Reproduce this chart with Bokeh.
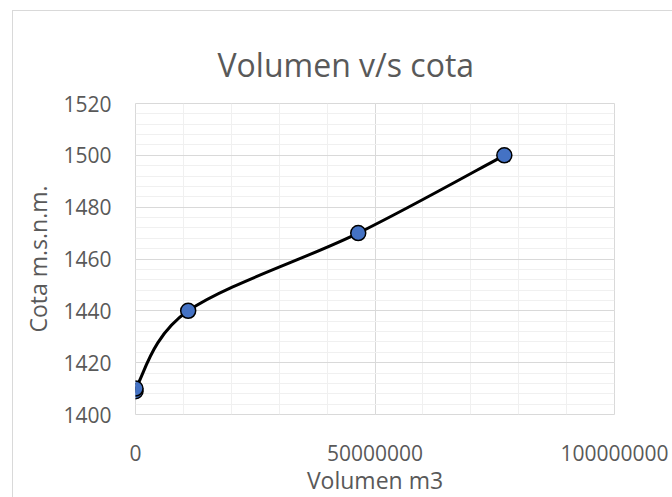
from bokeh.plotting import figure
from bokeh.models import Range1d, FixedTicker, Title, ColumnDataSource
from bokeh.embed import file_html
from bokeh.resources import INLINE

# data
volumen = [0, 0, 11000000, 46500000, 77000000]
cota = [1409, 1410, 1440, 1470, 1500]
x_ticks = [0, 50000000, 100000000]
x_minor = [i * 10000000 for i in range(11)]
y_ticks = [1400, 1420, 1440, 1460, 1480, 1500, 1520]
y_minor = [1400 + 4 * i for i in range(31)]
title_text = "Volumen v/s cota"

TEXT = "#595959"
FONT = "Open Sans"

X0, X1, Y0, Y1 = 0, 100000000, 1400, 1520
FRAME_W, FRAME_H = 479, 315
OFF_L, OFF_T = 12, 10          # chart-area border offset
W, H = 660, 487
BL = 135 - OFF_L - 1
BT = 103 - OFF_T - 1

p = figure(width=W, height=H, output_backend="svg", toolbar_location=None,
           x_range=Range1d(X0, X1), y_range=Range1d(Y0, Y1),
           min_border_left=BL, min_border_right=W - BL - FRAME_W,
           min_border_top=BT, min_border_bottom=H - BT - FRAME_H)
p.margin = (OFF_T, 0, 0, OFF_L)
p.styles = {"border-left": "1px solid #d9d9d9", "border-top": "1px solid #d9d9d9"}
p.outline_line_color = "#d9d9d9"
p.background_fill_color = "white"
p.border_fill_color = "white"

t = Title(text=title_text, align="left", offset=82, text_font_size="32px",
          text_color=TEXT, text_font=FONT, text_font_style="normal", standoff=36)
p.add_layout(t, "above")

p.xaxis.ticker = FixedTicker(ticks=x_ticks, minor_ticks=x_minor)
p.yaxis.ticker = FixedTicker(ticks=y_ticks, minor_ticks=y_minor)
for ax in (p.xaxis[0], p.yaxis[0]):
    ax.axis_line_color = None
    ax.major_tick_line_color = None
    ax.minor_tick_line_color = None
    ax.major_tick_out = 0
    ax.major_tick_in = 0
    ax.major_label_text_font = FONT
    ax.major_label_text_font_size = "21px"
    ax.major_label_text_color = TEXT
    ax.axis_label_text_font = FONT
    ax.axis_label_text_font_size = "23px"
    ax.axis_label_text_color = TEXT
    ax.axis_label_text_font_style = "normal"
p.xaxis.axis_label = "Volumen m3"
p.yaxis.axis_label = "Cota m.s.n.m."
p.xaxis.major_label_standoff = 26
p.xaxis.axis_label_standoff = 0
p.yaxis.major_label_standoff = 20
p.yaxis.axis_label_standoff = 6
p.xaxis.formatter.use_scientific = False
p.yaxis.formatter.use_scientific = False

for g in (p.xgrid[0], p.ygrid[0]):
    g.grid_line_color = "#d9d9d9"
    g.grid_line_width = 1
    g.minor_grid_line_color = "#f0f0f0"
    g.minor_grid_line_width = 1

# smoothed line: spreadsheet-style bezier (Catmull-Rom tangents, 1/6 arms,
# capped at half the segment length), computed in screen space
sx = FRAME_W / (X1 - X0)
sy = FRAME_H / (Y1 - Y0)
P = [((v - X0) * sx, (c - Y0) * sy) for v, c in zip(volumen, cota)]
n = len(P)

def dist(a, b):
    return ((a[0] - b[0]) ** 2 + (a[1] - b[1]) ** 2) ** 0.5

cols = {k: [] for k in ("x0", "y0", "x1", "y1", "cx0", "cy0", "cx1", "cy1")}
for i in range(n - 1):
    a, b = P[i], P[i + 1]
    pm = P[max(i - 1, 0)]
    pp = P[min(i + 2, n - 1)]
    seg = dist(a, b)
    d0 = dist(pm, b)
    d1 = dist(a, pp)
    f = 1 / 6 if d0 / 6 < seg / 2 else (seg / (2 * d0) if d0 > 0 else 0)
    g = 1 / 6 if d1 / 6 < seg / 2 else (seg / (2 * d1) if d1 > 0 else 0)
    c0 = (a[0] + f * (b[0] - pm[0]), a[1] + f * (b[1] - pm[1]))
    c1 = (b[0] - g * (pp[0] - a[0]), b[1] - g * (pp[1] - a[1]))
    cols["x0"].append(a[0] / sx + X0); cols["y0"].append(a[1] / sy + Y0)
    cols["x1"].append(b[0] / sx + X0); cols["y1"].append(b[1] / sy + Y0)
    cols["cx0"].append(c0[0] / sx + X0); cols["cy0"].append(c0[1] / sy + Y0)
    cols["cx1"].append(c1[0] / sx + X0); cols["cy1"].append(c1[1] / sy + Y0)
src = ColumnDataSource(cols)
p.bezier(x0="x0", y0="y0", x1="x1", y1="y1", cx0="cx0", cy0="cy0", cx1="cx1", cy1="cy1",
         source=src, line_color="black", line_width=3, line_cap="round")

p.scatter(volumen, cota, size=15, fill_color="#4472C4", line_color="black", line_width=1.5)

open("out.html", "w").write(file_html(p, INLINE))
